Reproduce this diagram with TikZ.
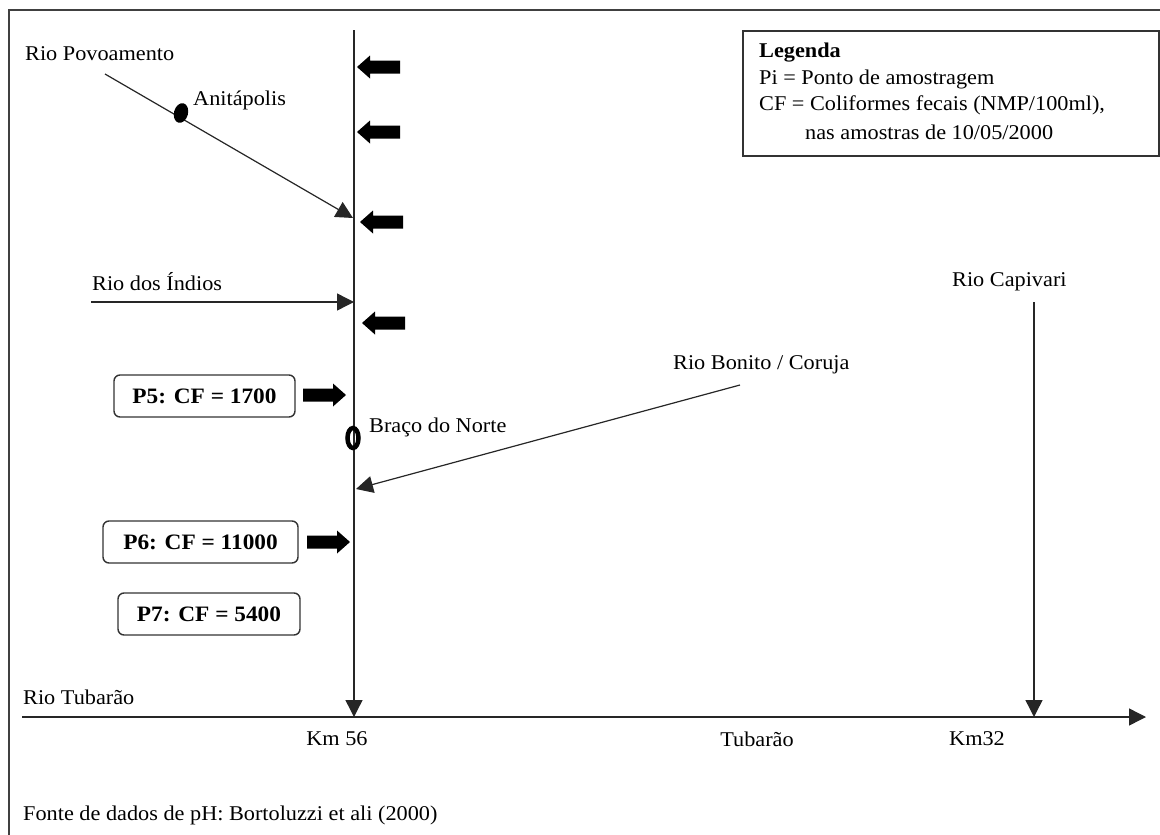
\documentclass[tikz,border=0pt]{standalone}
\usepackage{fontspec}
\setmainfont{Liberation Serif}[FakeStretch=1.06]
\usetikzlibrary{arrows.meta}

\tikzset{
  lbl/.style={font=\fontsize{21}{25}\selectfont, inner sep=0pt, anchor=west},
  kmlbl/.style={font=\fontsize{21}{25}\selectfont, inner sep=0pt},
  river/.style={line width=1.4pt, draw=black!85},
  tipped/.style={river, -{Triangle[length=17pt,width=17pt]}},
  sample/.style={draw=black!80, line width=1.4pt, rounded corners=6pt,
    font=\bfseries\fontsize{22}{26}\selectfont, inner sep=0pt},
  legtxt/.style={font=\fontsize{21}{25}\selectfont, inner sep=0pt, anchor=west},
  blockleft/.pic={\fill (0,0) -- (13,-11.5) -- (13,-6.5) -- (43,-6.5) -- (43,6.5) -- (13,6.5) -- (13,11.5) -- cycle;},
  blockright/.pic={\fill (0,0) -- (-13,-11.5) -- (-13,-6.5) -- (-43,-6.5) -- (-43,6.5) -- (-13,6.5) -- (-13,11.5) -- cycle;}
}

\begin{document}
\begin{tikzpicture}[x=1pt, y=-1pt]
\useasboundingbox (0,0) rectangle (1160,835);

% outer frame (left and top edges)
\draw[line width=2pt, black!75] (9,835) -- (9,10) -- (1160,10);

% legend
\node[draw=black!80, line width=2pt, minimum width=416pt, minimum height=125pt,
      inner sep=0pt, anchor=north west] (legend) at (742,30) {};
\node[legtxt, font=\bfseries\fontsize{21}{25}\selectfont] (legA) at (759,53) {Legenda};
\node[legtxt] (legB) at (759,79) {Pi = Ponto de amostragem};
\node[legtxt] (legC) at (759,105) {CF = Coliformes fecais (NMP/100ml),};
\node[legtxt] (legD) at (805,132) {nas amostras de 10/05/2000};

% main river (Braço do Norte) and Rio Tubarão
\coordinate (bntop) at (354,30);
\coordinate (km56) at (354,717);
\coordinate (tubS) at (22,717);
\coordinate (tubE) at (1146,717);
\draw[tipped] (bntop) -- (km56);
\draw[tipped] (tubS) -- (tubE);

% Rio Povoamento
\node[lbl] (povoa) at (25,54) {Rio Povoamento};
\coordinate (povS) at (105,74);
\coordinate (povE) at (353,218);
\draw[tipped, line width=1.2pt] (povS) -- (povE);
\fill[rotate around={-15:(181,113)}] (181,113) ellipse [x radius=7pt, y radius=10pt];
\node[lbl] (anita) at (193,100) {Anitápolis};

% Rio dos Índios
\node[lbl] (indios) at (92,282) {Rio dos Índios};
\coordinate (indS) at (91,302);
\coordinate (indE) at (354,302);
\draw[tipped] (indS) -- (indE);

% Braço do Norte town
\draw[line width=4.5pt] (353,438) ellipse [x radius=5.5pt, y radius=10pt];
\node[lbl] (braco) at (369,427) {Braço do Norte};

% Rio Bonito / Coruja
\node[lbl] (bonito) at (673,365) {Rio Bonito / Coruja};
\coordinate (bonS) at (740,385);
\coordinate (bonE) at (356,489);
\draw[tipped, line width=1.2pt] (bonS) -- (bonE);

% Rio Capivari
\node[lbl] (capiv) at (952,282) {Rio Capivari};
\coordinate (capS) at (1034,302);
\coordinate (capE) at (1034,717);
\draw[tipped] (capS) -- (capE);

% Rio Tubarão labels
\node[lbl] (tubarao) at (23,697) {Rio Tubarão};
\node[kmlbl] (k56) at (337,739) {Km 56};
\node[kmlbl] (tubcity) at (757,739) {Tubarão};
\node[kmlbl] (k32) at (977,739) {Km32};

% sampling points
\node[sample, minimum width=181pt, minimum height=42pt] (p5) at (204.5,396) {P5: CF = 1700};
\node[sample, minimum width=195pt, minimum height=42pt] (p6) at (200.5,542) {P6: CF = 11000};
\node[sample, minimum width=182pt, minimum height=42pt] (p7) at (209,614) {P7: CF = 5400};

% block arrows along the river
\pic at (357,67) {blockleft};
\pic at (357,132) {blockleft};
\pic at (360,222) {blockleft};
\pic at (362,323) {blockleft};
\pic at (346,395) {blockright};
\pic at (350,542) {blockright};

% data source
\node[lbl] (fonte) at (23,815) {Fonte de dados de pH: Bortoluzzi et ali (2000)};
\end{tikzpicture}
\end{document}
